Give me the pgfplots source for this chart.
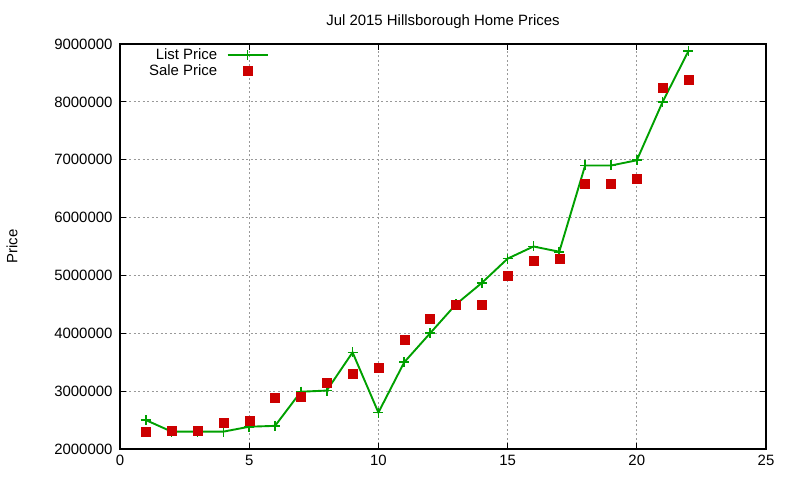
\documentclass[border=0pt]{standalone}
\usepackage{pgfplots}
\pgfplotsset{compat=1.18}
\usepackage{fontspec}
\setmainfont{Liberation Sans}
\definecolor{listgreen}{RGB}{0,160,0}
\definecolor{salered}{RGB}{204,0,0}
\begin{document}
\begin{tikzpicture}
\useasboundingbox (0,0) rectangle (800bp,480bp);
\begin{axis}[
    at={(120bp,31bp)}, anchor=south west,
    scale only axis,
    width=646bp, height=405bp,
    xmin=0, xmax=25, ymin=2000000, ymax=9000000,
    xtick={0,5,...,25},
    ytick={2000000,3000000,...,9000000},
    scaled y ticks=false,
    /pgf/number format/assume math mode=true,
    yticklabel style={/pgf/number format/fixed, /pgf/number format/1000 sep={}, xshift=-4bp},
    xticklabel style={yshift=-3bp},
    font=\fontsize{15}{18}\selectfont,
    tick align=inside, major tick length=6bp,
    axis line style={line width=1.1bp},
    tick style={line width=1bp, black},
    grid=major,
    grid style={gray!80, line width=0.8bp, dash pattern=on 2bp off 2.5bp},
    title={Jul 2015 Hillsborough Home Prices},
    title style={at={(axis description cs:0.5,1)}, anchor=center, yshift=16bp},
    ylabel={Price},
    ylabel style={at={(axis description cs:-0.167,0.5)}, anchor=center},
    legend plot pos=right,
    legend cell align=right,
    legend style={at={(axis description cs:0.235,0.997)}, anchor=north east,
        draw=none, fill=none, row sep=0bp, column sep=8bp,
        nodes={inner sep=1.5bp, font=\fontsize{15}{18}\selectfont}},
    legend image code/.code={\draw[mark repeat=2,mark phase=2,#1] plot coordinates {(0bp,0bp) (20bp,0bp) (40bp,0bp)};},
]
\addplot[listgreen, line width=1.9bp, mark=+, mark size=5bp, mark options={line width=1.6bp}] coordinates {
    (1,2500000) (2,2300000) (3,2300000) (4,2300000) (5,2385000) (6,2400000)
    (7,2990000) (8,3010000) (9,3670000) (10,2630000) (11,3500000) (12,4000000)
    (13,4500000) (14,4870000) (15,5290000) (16,5500000) (17,5410000) (18,6900000)
    (19,6900000) (20,6990000) (21,8000000) (22,8880000)
};
\addlegendentry{List Price}
\addplot[only marks, mark=square*, mark size=4.5bp, salered, mark options={draw=salered, fill=salered}] coordinates {
    (1,2300000) (2,2310000) (3,2310000) (4,2450000) (5,2490000) (6,2890000)
    (7,2910000) (8,3150000) (9,3300000) (10,3400000) (11,3890000) (12,4250000)
    (13,4490000) (14,4490000) (15,5000000) (16,5250000) (17,5290000) (18,6590000)
    (19,6590000) (20,6670000) (21,8250000) (22,8380000)
};
\addlegendentry{Sale Price}
\end{axis}
\end{tikzpicture}
\end{document}
